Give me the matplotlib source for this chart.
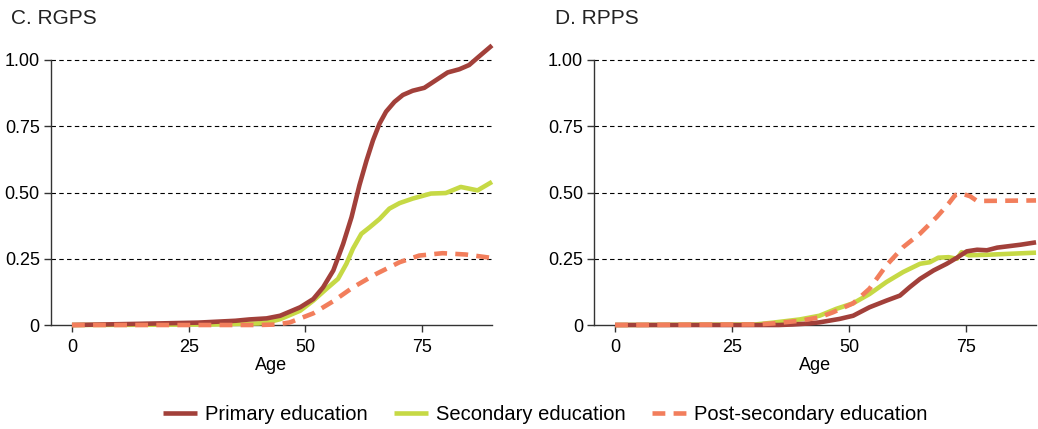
import numpy as np
import matplotlib.pyplot as plt

plt.rcParams["font.family"] = ["Liberation Sans", "DejaVu Sans"]

# RGPS panel
rg_primary_age = [0, 13, 27, 35, 38, 41.7, 44.6, 48.9, 51.7, 53.8, 56.0, 58.1, 59.9, 61.6, 63.1, 64.5, 65.9, 67.3, 69.1, 70.9, 73.0, 75.5, 78.0, 80.5, 83.0, 85.1, 87.2, 90]
rg_primary = [0, 0.004, 0.009, 0.016, 0.021, 0.025, 0.035, 0.067, 0.098, 0.142, 0.206, 0.306, 0.407, 0.528, 0.62, 0.697, 0.76, 0.805, 0.842, 0.868, 0.884, 0.895, 0.924, 0.953, 0.965, 0.981, 1.013, 1.055]
rg_secondary_age = [0, 30, 40, 42, 44.6, 48.9, 51.7, 54.5, 57.0, 58.8, 60.2, 62.0, 63.8, 65.9, 68.0, 70.2, 73.0, 76.9, 80.1, 83.3, 86.9, 90]
rg_secondary = [0, 0.002, 0.006, 0.01, 0.022, 0.054, 0.092, 0.136, 0.174, 0.231, 0.288, 0.344, 0.369, 0.40, 0.439, 0.46, 0.477, 0.496, 0.498, 0.521, 0.508, 0.54]
rg_post_age = [0, 40, 44, 46.7, 51.7, 56.0, 60.2, 65.2, 70.2, 74.4, 79.4, 84.4, 90]
rg_post = [0, 0, 0.002, 0.01, 0.044, 0.09, 0.142, 0.193, 0.237, 0.262, 0.271, 0.266, 0.253]

# RPPS panel
rp_primary_age = [0, 35, 38, 41.6, 43.7, 48.0, 50.9, 54.4, 58.0, 60.9, 63.0, 65.2, 68.1, 70.9, 73.1, 75.2, 77.4, 79.5, 81.7, 86.7, 90]
rp_primary = [0, 0, 0.002, 0.006, 0.01, 0.023, 0.035, 0.067, 0.092, 0.111, 0.143, 0.174, 0.206, 0.231, 0.254, 0.278, 0.284, 0.282, 0.292, 0.303, 0.312]
rp_secondary_age = [0, 30, 33.8, 39.5, 43.7, 47.3, 50.9, 54.4, 58.0, 61.6, 65.2, 67.3, 69.1, 71.3, 73.1, 74.1, 75.6, 79.5, 90]
rp_secondary = [0, 0.002, 0.009, 0.021, 0.035, 0.061, 0.082, 0.117, 0.162, 0.20, 0.231, 0.237, 0.254, 0.256, 0.25, 0.275, 0.263, 0.265, 0.273]
rp_post_age = [0, 30, 33.8, 39.5, 43.7, 46.6, 50.9, 54.4, 58.0, 61.6, 65.2, 68.8, 71.3, 72.7, 74.1, 75.9, 77.4, 90]
rp_post = [0, 0.002, 0.006, 0.016, 0.029, 0.048, 0.082, 0.137, 0.225, 0.294, 0.345, 0.408, 0.458, 0.49, 0.496, 0.486, 0.468, 0.47]

labels = ["Primary education", "Secondary education", "Post-secondary education"]
colors = ["#a2403a", "#c6d945", "#f27e5c"]
yticks = [0, 0.25, 0.5, 0.75, 1.0]
ytick_labels = ["0", "0.25", "0.50", "0.75", "1.00"]
xticks = [0, 25, 50, 75]

fig = plt.figure(figsize=(10.38, 4.29), dpi=100)
ax1 = fig.add_axes([0.0491, 0.2424, 0.4249, 0.661])
ax2 = fig.add_axes([0.5723, 0.2424, 0.4258, 0.661])

panels = [
    (ax1, "C. RGPS", 0.011, [(rg_primary_age, rg_primary), (rg_secondary_age, rg_secondary), (rg_post_age, rg_post)]),
    (ax2, "D. RPPS", 0.535, [(rp_primary_age, rp_primary), (rp_secondary_age, rp_secondary), (rp_post_age, rp_post)]),
]

for ax, title, tx, series in panels:
    for y in yticks[1:]:
        ax.axhline(y, color="black", lw=0.8, ls=(0, (4, 3)), zorder=1)
    for i, (xs, ys) in enumerate(series):
        kw = dict(color=colors[i], lw=3.3, label=labels[i], clip_on=False, zorder=3 + (i == 2) - i * 0.1)
        if i == 2:
            kw["ls"] = (0, (2.8, 1.8))
        ax.plot(xs, ys, solid_capstyle="butt", **kw)
    ax.set_xlim(-4.5, 90)
    ax.set_ylim(0, 1.07)
    ax.spines["top"].set_visible(False)
    ax.spines["right"].set_visible(False)
    ax.spines["left"].set_bounds(0, 1)
    for s in ("left", "bottom"):
        ax.spines[s].set_color("#333333")
        ax.spines[s].set_linewidth(1.0)
    ax.set_yticks(yticks, ytick_labels)
    ax.set_xticks(xticks)
    ax.tick_params(axis="both", labelsize=13, length=5, width=1, color="#333333")
    ax.tick_params(axis="x", pad=5)
    ax.tick_params(axis="y", pad=3)
    ax.set_xlabel("Age", fontsize=13, labelpad=1)
    fig.text(tx, 0.958, title, fontsize=15, va="center", ha="left", color="#222222")

handles, labs = ax1.get_legend_handles_labels()
fig.legend(handles, labs, loc="lower center", bbox_to_anchor=(0.525, -0.03), ncol=3,
           frameon=False, fontsize=14.5, handlelength=1.7, columnspacing=1.3, handletextpad=0.4)

fig.savefig("out.png", dpi=100)
